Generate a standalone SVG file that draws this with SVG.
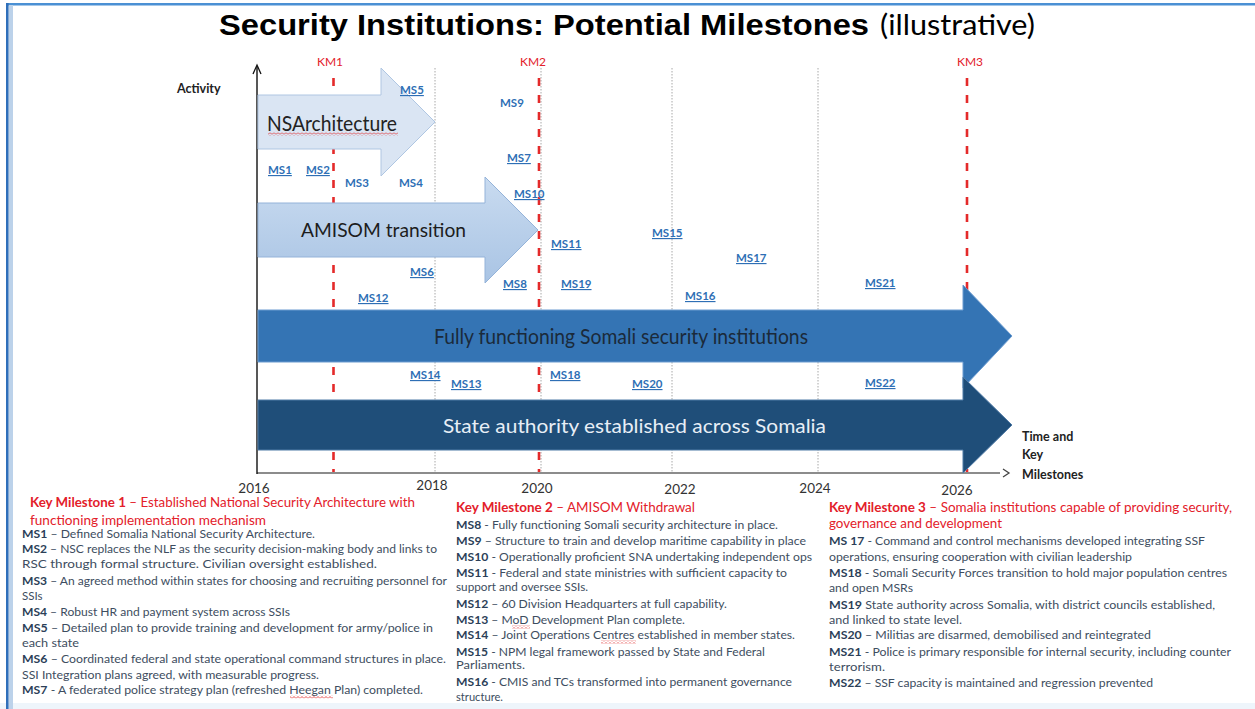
<svg xmlns="http://www.w3.org/2000/svg" width="1255" height="709" viewBox="0 0 1255 709">
<defs>
<style>
.f{font-family:Lato,"Liberation Sans",sans-serif}
.body{font-size:11.5px;fill:#3d4d60}
.b{font-weight:700;fill:#2c3f58}
.kmh{font-size:13px;fill:#e3202a}
.kmh .b{fill:#e3202a}
.ms{font-size:11.5px;font-weight:700;fill:#2e6fb5;text-decoration:underline}
.nu{text-decoration:none}
.kml{font-size:12px;fill:#e3202a}
.yr{font-size:13.5px;fill:#333;text-anchor:middle}
.grid{stroke:#a8a8a8;stroke-width:1;stroke-dasharray:1.5 1.5}
.kmline{stroke:#e42a2a;stroke-width:2.6;stroke-dasharray:8 9}
.wavy{fill:url(#wav)}
</style>
<pattern id="wav" width="4" height="3" patternUnits="userSpaceOnUse">
<path d="M0,2.5 L2,0.5 L4,2.5" fill="none" stroke="#e02020" stroke-width="0.8"/>
</pattern>
<linearGradient id="amg" x1="0" y1="0" x2="0" y2="1">
<stop offset="0" stop-color="#c9dbf0"/>
<stop offset="1" stop-color="#a9c4e4"/>
</linearGradient>
</defs>
<rect width="1255" height="709" fill="#ffffff"/>
<rect x="0" y="703" width="1255" height="6" fill="#eef5fb"/>
<g id="frame">
<rect x="7" y="3" width="1248" height="2.5" fill="#4a90d4"/>
<rect x="9" y="5" width="4" height="704" fill="#bcd2ea"/>
<rect x="6" y="3" width="2.6" height="706" fill="#2f6fba"/>
</g>
<g id="title" class="f">
<text x="219" y="35" font-family="'Liberation Sans',Arial,sans-serif" font-weight="700" font-size="29" fill="#000" textLength="650" lengthAdjust="spacingAndGlyphs">Security Institutions: Potential Milestones</text>
<text x="880" y="35" font-size="28" fill="#000" textLength="155" lengthAdjust="spacingAndGlyphs">(illustrative)</text>
</g>
<g id="connectors">
<line class="grid" x1="435" y1="68" x2="435" y2="473"/>
<line class="grid" x1="541" y1="68" x2="541" y2="473"/>
<line class="grid" x1="672" y1="68" x2="672" y2="473"/>
<line class="grid" x1="818" y1="68" x2="818" y2="473"/>
<line class="kmline" x1="333.5" y1="78" x2="333.5" y2="472"/>
<line class="kmline" x1="539" y1="78" x2="539" y2="472"/>
<line class="kmline" x1="967" y1="78" x2="967" y2="472"/>
<line x1="257" y1="473" x2="1000" y2="473" stroke="#666" stroke-width="1.6"/>
<polyline points="1003,469 1009,473 1003,477" fill="none" stroke="#444" stroke-width="1.3"/>
<line x1="257" y1="66" x2="257" y2="474" stroke="#111" stroke-width="1.4"/>
<polyline points="253,74 257,65 261,74" fill="none" stroke="#111" stroke-width="1.3"/>
</g>
<g id="node-nsarchitecture">
<polygon points="258,95 381,95 381,68 435,122 381,176 381,149 258,149" fill="#dae5f3" stroke="#afc6e2" stroke-width="1"/>
<text class="f" x="267" y="131" font-size="21" fill="#222" textLength="130" lengthAdjust="spacingAndGlyphs">NSArchitecture</text>
<rect class="wavy" x="268" y="132.5" width="130" height="3"/>
</g>
<g id="node-amisom">
<polygon points="258,203 485,203 485,177 538,230 485,283 485,257 258,257" fill="url(#amg)" stroke="#94b3d9" stroke-width="1"/>
<text class="f" x="301" y="237" font-size="20" fill="#1d1d1d" textLength="165" lengthAdjust="spacingAndGlyphs">AMISOM transition</text>
</g>
<g id="node-fully">
<polygon points="258,310 963,310 963,285 1012,336 963,388 963,362 258,362" fill="#3474b4" stroke="#6b9bd0" stroke-width="1"/>
<text class="f" x="434" y="344" font-size="21" fill="#1b2a3a" textLength="374" lengthAdjust="spacingAndGlyphs">Fully functioning Somali security institutions</text>
</g>
<g id="node-state">
<polygon points="258,400 963,400 963,377 1012,425 963,473 963,450 258,450" fill="#1f4e79" stroke="#4f7aa6" stroke-width="1"/>
<text class="f" x="443" y="433" font-size="19" fill="#e8eef6" textLength="383" lengthAdjust="spacingAndGlyphs">State authority established across Somalia</text>
</g>
<g id="axis-labels" class="f">
<text x="177" y="93" font-size="12.5" font-weight="700" fill="#222">Activity</text>
<text class="kml" x="317" y="66">KM1</text>
<text class="kml" x="520" y="66">KM2</text>
<text class="kml" x="957" y="66">KM3</text>
<text class="yr" x="254" y="493">2016</text>
<text class="yr" x="432" y="490">2018</text>
<text class="yr" x="537" y="493">2020</text>
<text class="yr" x="680" y="494">2022</text>
<text class="yr" x="815" y="493">2024</text>
<text class="yr" x="957" y="495">2026</text>
<text x="1022" y="441" font-size="12.5" font-weight="700" fill="#222">Time and</text>
<text x="1022" y="459" font-size="12.5" font-weight="700" fill="#222">Key</text>
<text x="1022" y="479" font-size="12.5" font-weight="700" fill="#222">Milestones</text>
</g>
<g id="milestone-markers" class="f">
<text class="ms" x="400" y="94">MS5</text>
<text class="ms nu" x="500" y="107">MS9</text>
<text class="ms" x="507" y="162">MS7</text>
<text class="ms" x="268" y="174">MS1</text>
<text class="ms" x="306" y="174">MS2</text>
<text class="ms nu" x="345" y="187">MS3</text>
<text class="ms nu" x="399" y="187">MS4</text>
<text class="ms" x="514" y="198">MS10</text>
<text class="ms" x="652" y="237">MS15</text>
<text class="ms" x="551" y="248">MS11</text>
<text class="ms" x="736" y="262">MS17</text>
<text class="ms" x="410" y="276">MS6</text>
<text class="ms" x="503" y="288">MS8</text>
<text class="ms" x="561" y="288">MS19</text>
<text class="ms" x="865" y="287">MS21</text>
<text class="ms" x="685" y="300">MS16</text>
<text class="ms" x="358" y="302">MS12</text>
<text class="ms" x="410" y="379">MS14</text>
<text class="ms" x="451" y="388">MS13</text>
<text class="ms" x="550" y="379">MS18</text>
<text class="ms" x="632" y="388">MS20</text>
<text class="ms" x="865" y="387">MS22</text>
</g>
<g id="key-milestone-1" class="f">
<text class="kmh" x="30" y="507" textLength="385" lengthAdjust="spacingAndGlyphs"><tspan class="b">Key Milestone 1</tspan> – Established National Security Architecture with</text>
<text class="kmh" x="30" y="525" textLength="236" lengthAdjust="spacingAndGlyphs">functioning implementation mechanism</text>
<text class="body" x="22" y="538" textLength="293" lengthAdjust="spacingAndGlyphs"><tspan class="b">MS1</tspan> – Defined Somalia National Security Architecture.</text>
<text class="body" x="22" y="553" textLength="415" lengthAdjust="spacingAndGlyphs"><tspan class="b">MS2</tspan> – NSC replaces the NLF as the security decision-making body and links to</text>
<text class="body" x="22" y="568" textLength="355" lengthAdjust="spacingAndGlyphs">RSC through formal structure. Civilian oversight established.</text>
<text class="body" x="22" y="585" textLength="425" lengthAdjust="spacingAndGlyphs"><tspan class="b">MS3</tspan> – An agreed method within states for choosing and recruiting personnel for</text>
<text class="body" x="22" y="600">SSIs</text>
<text class="body" x="22" y="616" textLength="268" lengthAdjust="spacingAndGlyphs"><tspan class="b">MS4</tspan> – Robust HR and payment system across SSIs</text>
<text class="body" x="22" y="632" textLength="411" lengthAdjust="spacingAndGlyphs"><tspan class="b">MS5</tspan> – Detailed plan to provide training and development for army/police in</text>
<text class="body" x="22" y="647" textLength="57" lengthAdjust="spacingAndGlyphs">each state</text>
<text class="body" x="22" y="663" textLength="424" lengthAdjust="spacingAndGlyphs"><tspan class="b">MS6</tspan> – Coordinated federal and state operational command structures in place.</text>
<text class="body" x="22" y="679" textLength="297" lengthAdjust="spacingAndGlyphs">SSI Integration plans agreed, with measurable progress.</text>
<text class="body" x="22" y="694" textLength="401" lengthAdjust="spacingAndGlyphs"><tspan class="b">MS7</tspan> - A federated police strategy plan (refreshed Heegan Plan) completed.</text>
<rect class="wavy" x="290" y="695.5" width="43" height="3"/>
</g>
<g id="key-milestone-2" class="f">
<text class="kmh" x="456" y="512" textLength="239" lengthAdjust="spacingAndGlyphs"><tspan class="b">Key Milestone 2</tspan> – AMISOM Withdrawal</text>
<text class="body" x="456" y="529" textLength="322" lengthAdjust="spacingAndGlyphs"><tspan class="b">MS8</tspan> - Fully functioning Somali security architecture in place.</text>
<text class="body" x="456" y="545" textLength="350" lengthAdjust="spacingAndGlyphs"><tspan class="b">MS9</tspan> – Structure to train and develop maritime capability in place</text>
<text class="body" x="456" y="561" textLength="356" lengthAdjust="spacingAndGlyphs"><tspan class="b">MS10</tspan> - Operationally proficient SNA undertaking independent ops</text>
<text class="body" x="456" y="577" textLength="331" lengthAdjust="spacingAndGlyphs"><tspan class="b">MS11</tspan> - Federal and state ministries with sufficient capacity to</text>
<text class="body" x="456" y="591" textLength="132" lengthAdjust="spacingAndGlyphs">support and oversee SSIs.</text>
<text class="body" x="456" y="608" textLength="271" lengthAdjust="spacingAndGlyphs"><tspan class="b">MS12</tspan> – 60 Division Headquarters at full capability.</text>
<text class="body" x="456" y="624" textLength="229" lengthAdjust="spacingAndGlyphs"><tspan class="b">MS13</tspan> – MoD Development Plan complete.</text>
<rect class="wavy" x="512" y="625.5" width="18" height="3"/>
<text class="body" x="456" y="639" textLength="339" lengthAdjust="spacingAndGlyphs"><tspan class="b">MS14</tspan> – Joint Operations Centres established in member states.</text>
<rect class="wavy" x="601" y="640.5" width="35" height="3"/>
<text class="body" x="456" y="656" textLength="309" lengthAdjust="spacingAndGlyphs"><tspan class="b">MS15</tspan> - NPM legal framework passed by State and Federal</text>
<text class="body" x="456" y="669" textLength="69" lengthAdjust="spacingAndGlyphs">Parliaments.</text>
<text class="body" x="456" y="686" textLength="336" lengthAdjust="spacingAndGlyphs"><tspan class="b">MS16</tspan> - CMIS and TCs transformed into permanent governance</text>
<text class="body" x="456" y="701" textLength="47" lengthAdjust="spacingAndGlyphs">structure.</text>
</g>
<g id="key-milestone-3" class="f">
<text class="kmh" x="829" y="512" textLength="403" lengthAdjust="spacingAndGlyphs"><tspan class="b">Key Milestone 3</tspan>  – Somalia institutions capable of providing security,</text>
<text class="kmh" x="829" y="528" textLength="173" lengthAdjust="spacingAndGlyphs">governance and development</text>
<text class="body" x="829" y="545" textLength="376" lengthAdjust="spacingAndGlyphs"><tspan class="b">MS 17</tspan> - Command and control mechanisms developed integrating SSF</text>
<text class="body" x="829" y="561" textLength="303" lengthAdjust="spacingAndGlyphs">operations, ensuring cooperation with civilian leadership</text>
<text class="body" x="829" y="577" textLength="398" lengthAdjust="spacingAndGlyphs"><tspan class="b">MS18</tspan> -  Somali Security Forces transition to hold major population centres</text>
<text class="body" x="829" y="592" textLength="84" lengthAdjust="spacingAndGlyphs">and open MSRs</text>
<text class="body" x="829" y="609" textLength="386" lengthAdjust="spacingAndGlyphs"><tspan class="b">MS19</tspan>   State authority across Somalia, with district councils established,</text>
<text class="body" x="829" y="624" textLength="133" lengthAdjust="spacingAndGlyphs">and linked to state level.</text>
<text class="body" x="829" y="639" textLength="322" lengthAdjust="spacingAndGlyphs"><tspan class="b">MS20</tspan> – Militias are disarmed, demobilised and reintegrated</text>
<text class="body" x="829" y="656" textLength="402" lengthAdjust="spacingAndGlyphs"><tspan class="b">MS21</tspan> - Police is primary responsible for internal security, including counter</text>
<text class="body" x="829" y="671" textLength="56" lengthAdjust="spacingAndGlyphs">terrorism.</text>
<text class="body" x="829" y="687" textLength="324" lengthAdjust="spacingAndGlyphs"><tspan class="b">MS22</tspan> – SSF capacity is maintained and regression prevented</text>
</g>
</svg>
